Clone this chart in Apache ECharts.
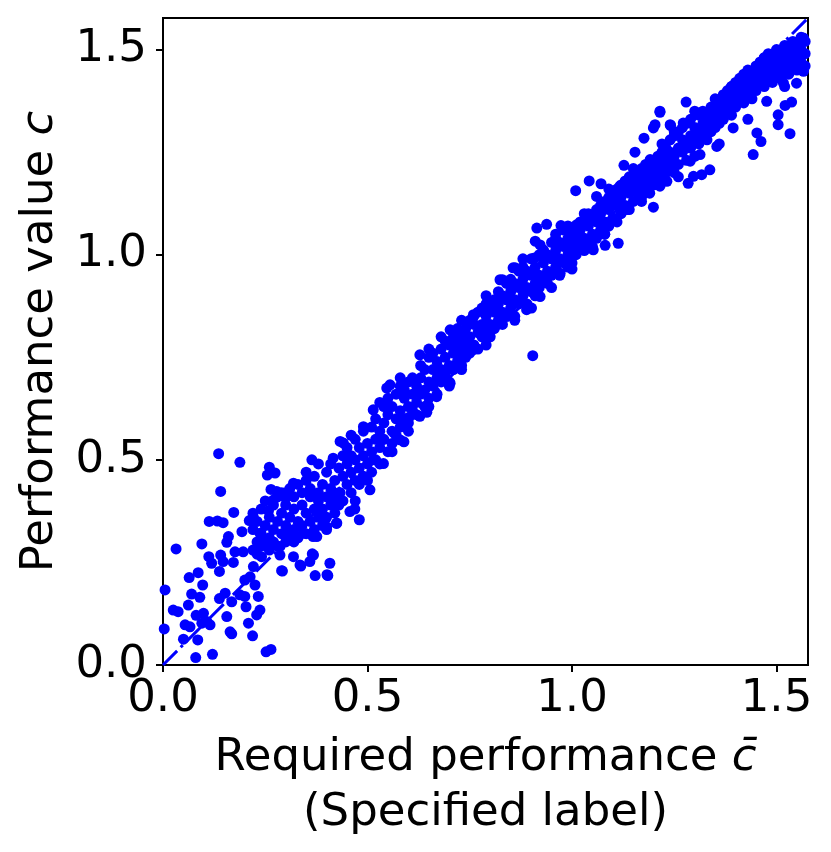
<!DOCTYPE html>
<html>
<head>
<meta charset="utf-8">
<script src="https://cdn.jsdelivr.net/npm/echarts@6/dist/echarts.min.js"></script>
<style>
html,body{margin:0;padding:0;background:#fff;}
#chart{width:831px;height:852px;}
</style>
</head>
<body>
<div id="chart"></div>
<script>
// Axis ranges and ticks
const axisMax = 1.577;
const tickInterval = 0.5;

// Reference line y = x
const diagonalLine = [[0, 0], [1.6, 1.6]];

// Dense band of points along the diagonal [required, value]
const bandPoints = [
[0.22,0.28],[0.22,0.33],[0.22,0.37],[0.23,0.30],[0.23,0.35],[0.23,0.27],[0.24,0.32],[0.24,0.38],[0.24,0.29],
[0.25,0.34],[0.25,0.30],[0.25,0.40],[0.26,0.31],[0.26,0.36],[0.26,0.28],[0.27,0.33],[0.27,0.39],[0.27,0.30],
[0.28,0.35],[0.28,0.29],[0.28,0.41],[0.29,0.32],[0.29,0.37],[0.29,0.42],[0.30,0.30],[0.30,0.34],[0.30,0.39],
[0.31,0.36],[0.31,0.32],[0.31,0.43],[0.32,0.38],[0.32,0.33],[0.32,0.41],[0.33,0.35],[0.33,0.31],[0.33,0.44],
[0.34,0.39],[0.34,0.34],[0.34,0.42],[0.35,0.37],[0.35,0.32],[0.35,0.45],[0.36,0.41],[0.36,0.35],[0.36,0.43],
[0.37,0.38],[0.37,0.33],[0.37,0.46],[0.38,0.42],[0.38,0.36],[0.38,0.40],[0.39,0.44],[0.39,0.38],[0.39,0.34],
[0.40,0.41],[0.40,0.47],[0.40,0.36],[0.41,0.43],[0.41,0.39],[0.41,0.49],[0.42,0.45],[0.42,0.37],[0.42,0.41],
[0.43,0.48],[0.43,0.42],[0.43,0.39],[0.44,0.46],[0.44,0.51],[0.44,0.40],[0.45,0.44],[0.45,0.49],[0.45,0.53],
[0.46,0.47],[0.46,0.42],[0.46,0.51],[0.47,0.50],[0.47,0.45],[0.47,0.55],[0.48,0.48],[0.48,0.53],[0.48,0.44],
[0.49,0.51],[0.49,0.46],[0.49,0.57],[0.50,0.49],[0.50,0.54],[0.50,0.45],[0.51,0.52],[0.51,0.58],[0.51,0.47],
[0.52,0.55],[0.52,0.50],[0.52,0.60],[0.53,0.53],[0.53,0.57],[0.53,0.49],[0.54,0.59],[0.54,0.55],[0.54,0.63],
[0.55,0.52],[0.55,0.61],[0.55,0.65],[0.56,0.57],[0.56,0.63],[0.56,0.54],[0.57,0.60],[0.57,0.66],[0.57,0.56],
[0.58,0.62],[0.58,0.58],[0.58,0.68],[0.59,0.65],[0.59,0.60],[0.59,0.67],[0.60,0.63],[0.60,0.69],[0.60,0.59],
[0.61,0.66],[0.61,0.62],[0.61,0.70],[0.62,0.64],[0.62,0.68],[0.62,0.61],[0.63,0.70],[0.63,0.66],[0.63,0.73],
[0.64,0.67],[0.64,0.63],[0.64,0.72],[0.65,0.69],[0.65,0.75],[0.65,0.65],[0.66,0.72],[0.66,0.68],[0.66,0.76],
[0.67,0.70],[0.67,0.74],[0.67,0.66],[0.68,0.77],[0.68,0.72],[0.68,0.69],[0.69,0.75],[0.69,0.71],[0.69,0.79],
[0.70,0.73],[0.70,0.78],[0.70,0.69],[0.71,0.76],[0.71,0.80],[0.71,0.72],[0.72,0.78],[0.72,0.74],[0.72,0.82],
[0.73,0.76],[0.73,0.80],[0.73,0.73],[0.74,0.82],[0.74,0.78],[0.74,0.75],[0.75,0.80],[0.75,0.84],[0.75,0.76],
[0.76,0.78],[0.76,0.83],[0.76,0.85],[0.77,0.81],[0.77,0.77],[0.77,0.86],[0.78,0.83],[0.78,0.80],[0.78,0.87],
[0.79,0.85],[0.79,0.81],[0.79,0.88],[0.80,0.83],[0.80,0.87],[0.80,0.80],[0.81,0.86],[0.81,0.82],[0.81,0.89],
[0.82,0.88],[0.82,0.84],[0.82,0.91],[0.83,0.86],[0.83,0.90],[0.83,0.83],[0.84,0.89],[0.84,0.93],[0.84,0.85],
[0.85,0.91],[0.85,0.87],[0.85,0.94],[0.86,0.89],[0.86,0.93],[0.86,0.85],[0.87,0.92],[0.87,0.88],[0.87,0.96],
[0.88,0.94],[0.88,0.90],[0.88,0.97],[0.89,0.92],[0.89,0.96],[0.89,0.88],[0.90,0.95],[0.90,0.91],[0.90,0.99],
[0.91,0.97],[0.91,0.93],[0.91,0.90],[0.92,0.95],[0.92,1.00],[0.92,0.92],[0.93,0.98],[0.93,0.94],[0.93,1.01],
[0.94,0.96],[0.94,1.00],[0.94,0.93],[0.95,0.99],[0.95,1.03],[0.95,0.95],[0.96,1.01],[0.96,0.97],[0.96,1.04],
[0.97,0.99],[0.97,1.03],[0.97,0.95],[0.98,1.02],[0.98,0.98],[0.98,1.06],[0.99,1.04],[0.99,1.00],[0.99,0.97],
[1.00,1.02],[1.00,1.06],[1.00,0.98],[1.01,1.04],[1.01,1.00],[1.01,1.07],[1.02,1.06],[1.02,1.02],[1.02,1.08],
[1.03,1.04],[1.03,1.08],[1.03,1.01],[1.04,1.07],[1.04,1.03],[1.04,1.10],[1.05,1.05],[1.05,1.09],[1.05,1.02],
[1.06,1.08],[1.06,1.04],[1.06,1.11],[1.07,1.10],[1.07,1.06],[1.07,1.12],[1.08,1.08],[1.08,1.13],[1.08,1.05],
[1.09,1.11],[1.09,1.07],[1.09,1.14],[1.10,1.09],[1.10,1.13],[1.10,1.15],[1.11,1.12],[1.11,1.08],[1.11,1.16],
[1.12,1.14],[1.12,1.10],[1.12,1.17],[1.13,1.12],[1.13,1.16],[1.13,1.18],[1.14,1.15],[1.14,1.11],[1.14,1.19],
[1.15,1.17],[1.15,1.13],[1.15,1.19],[1.16,1.15],[1.16,1.18],[1.16,1.20],[1.17,1.17],[1.17,1.14],[1.17,1.21],
[1.18,1.19],[1.18,1.16],[1.18,1.22],[1.19,1.18],[1.19,1.21],[1.19,1.15],[1.20,1.20],[1.20,1.17],[1.20,1.23],
[1.21,1.19],[1.21,1.22],[1.21,1.24],[1.22,1.21],[1.22,1.18],[1.22,1.25],[1.23,1.23],[1.23,1.20],[1.23,1.26],
[1.24,1.22],[1.24,1.25],[1.24,1.28],[1.25,1.24],[1.25,1.20],[1.25,1.29],[1.26,1.26],[1.26,1.22],[1.26,1.30],
[1.27,1.25],[1.27,1.28],[1.27,1.31],[1.28,1.27],[1.28,1.23],[1.28,1.32],[1.29,1.29],[1.29,1.26],[1.29,1.33],
[1.30,1.28],[1.30,1.31],[1.30,1.24],[1.31,1.30],[1.31,1.34],[1.31,1.27],[1.32,1.32],[1.32,1.29],[1.32,1.35],
[1.33,1.31],[1.33,1.34],[1.33,1.28],[1.34,1.33],[1.34,1.36],[1.34,1.30],[1.35,1.35],[1.35,1.31],[1.35,1.38],
[1.36,1.34],[1.36,1.37],[1.36,1.32],[1.37,1.36],[1.37,1.39],[1.37,1.33],[1.38,1.38],[1.38,1.35],[1.38,1.40],
[1.39,1.37],[1.39,1.41],[1.39,1.34],[1.40,1.39],[1.40,1.36],[1.40,1.42],[1.41,1.38],[1.41,1.41],[1.41,1.43],
[1.42,1.40],[1.42,1.37],[1.42,1.44],[1.43,1.42],[1.43,1.39],[1.43,1.45],[1.44,1.41],[1.44,1.44],[1.44,1.38],
[1.45,1.43],[1.45,1.46],[1.45,1.40],[1.46,1.42],[1.46,1.45],[1.46,1.47],[1.47,1.44],[1.47,1.41],[1.47,1.48],
[1.48,1.46],[1.48,1.43],[1.48,1.49],[1.49,1.45],[1.49,1.48],[1.49,1.42],[1.50,1.47],[1.50,1.44],[1.50,1.50],
[1.51,1.46],[1.51,1.49],[1.51,1.43],[1.52,1.48],[1.52,1.51],[1.52,1.45],[1.53,1.47],[1.53,1.50],[1.53,1.44],
[1.54,1.49],[1.54,1.52],[1.54,1.46],[1.55,1.48],[1.55,1.51],[1.55,1.45],[1.56,1.50],[1.56,1.47],[1.56,1.53],
[1.57,1.49],[1.57,1.52],[1.57,1.46]
];

// Points along the upper and lower edges of the band
const edgePoints = [
[0.319,0.443],[0.35,0.47],[0.38,0.49],[0.416,0.504],[0.433,0.545],[0.441,0.541],[0.46,0.56],[0.49,0.581],
[0.514,0.622],[0.53,0.64],[0.547,0.675],[0.555,0.683],[0.58,0.70],[0.611,0.695],[0.628,0.756],[0.65,0.77],
[0.68,0.80],[0.702,0.817],[0.73,0.84],[0.759,0.854],[0.79,0.90],[0.824,0.939],[0.856,0.968],[0.88,0.99],
[0.93,1.012],[0.96,1.05],[0.99,1.07],[1.011,1.073],[1.03,1.10],[1.06,1.142],[1.09,1.16],[1.117,1.167],
[1.15,1.21],[1.191,1.232],[1.22,1.27],[1.25,1.30],[1.272,1.321],[1.30,1.35],[1.337,1.337],[1.354,1.374],
[1.39,1.41],[1.435,1.447],[1.47,1.48],[1.50,1.496],[1.53,1.51],[1.566,1.528],
[0.286,0.289],[0.32,0.30],[0.367,0.313],[0.40,0.33],[0.425,0.346],[0.433,0.42],[0.47,0.40],[0.506,0.427],
[0.514,0.50],[0.539,0.491],[0.56,0.52],[0.579,0.549],[0.60,0.57],[0.628,0.606],[0.65,0.63],[0.669,0.654],
[0.70,0.68],[0.73,0.72],[0.758,0.768],[0.79,0.78],[0.84,0.85],[0.86,0.84],[0.889,0.866],[0.922,0.898],
[0.95,0.92],[0.971,0.955],[1.00,0.965],[1.052,1.012],[1.08,1.05],[1.134,1.11],[1.17,1.13],[1.215,1.167],
[1.232,1.179],[1.26,1.19],[1.297,1.191],[1.313,1.244],[1.337,1.207],[1.36,1.27],[1.394,1.309],[1.43,1.33],
[1.476,1.374],[1.52,1.41],[1.566,1.447]
];

// Scattered points in the low range (x < 0.5)
const lowPoints = [
[0.005,0.183],[0.032,0.283],[0.003,0.088],[0.025,0.134],[0.037,0.130],[0.050,0.063],[0.054,0.098],[0.066,0.093],
[0.062,0.146],[0.064,0.213],[0.070,0.173],[0.080,0.018],[0.085,0.061],[0.086,0.225],[0.090,0.165],[0.095,0.295],
[0.095,0.102],[0.097,0.195],[0.099,0.126],[0.081,0.121],[0.107,0.106],[0.115,0.098],[0.112,0.264],[0.119,0.248],
[0.121,0.026],[0.113,0.350],[0.133,0.351],[0.147,0.347],[0.136,0.515],[0.138,0.228],[0.138,0.162],[0.141,0.268],
[0.141,0.423],[0.147,0.252],[0.152,0.175],[0.156,0.118],[0.156,0.299],[0.160,0.313],[0.164,0.081],[0.168,0.076],
[0.168,0.154],[0.172,0.250],[0.173,0.372],[0.176,0.276],[0.188,0.494],[0.188,0.171],[0.193,0.325],[0.196,0.276],
[0.200,0.167],[0.200,0.207],[0.203,0.142],[0.209,0.102],[0.211,0.352],[0.213,0.215],[0.219,0.071],[0.221,0.360],
[0.221,0.240],[0.225,0.195],[0.229,0.122],[0.233,0.167],[0.237,0.134],[0.252,0.032],[0.264,0.038],[0.255,0.463],
[0.260,0.482],[0.274,0.468],[0.258,0.376],[0.264,0.428],[0.278,0.423],[0.270,0.402],[0.298,0.419],[0.300,0.407],
[0.241,0.264],[0.237,0.321],[0.245,0.293],[0.286,0.268],[0.292,0.229],[0.319,0.264],[0.335,0.244],[0.368,0.268],
[0.372,0.218],[0.403,0.218],[0.408,0.248],[0.337,0.241],[0.359,0.252],[0.343,0.321],[0.376,0.313],[0.400,0.337],
[0.424,0.345],[0.457,0.374],[0.469,0.380],[0.480,0.354],[0.364,0.500],[0.290,0.230],[0.365,0.271],[0.401,0.220]
];

// Scattered points in the middle range
const midPoints = [
[0.488,0.457],[0.589,0.544],[0.645,0.616],[0.602,0.604],[0.702,0.687],[0.904,0.754],[0.901,0.870],[0.861,0.968],
[0.830,0.939],[0.914,1.065],[0.938,1.074],[0.973,1.071],[0.910,1.033],[0.922,1.024],[0.908,0.992],[1.009,1.156],
[1.042,1.180],[1.071,1.173],[1.081,1.023],[1.113,1.028],[1.127,1.218],[1.154,1.250],[1.176,1.284],[1.199,1.116],
[1.215,1.347],[1.203,1.317],[1.240,1.317]
];

// Scattered points in the high range
const highPoints = [
[1.279,1.372],[1.215,1.350],[1.241,1.315],[1.199,1.309],[1.354,1.264],[1.443,1.244],[1.452,1.297],[1.462,1.276],
[1.533,1.295],[1.504,1.341],[1.504,1.317],[1.521,1.364],[1.537,1.372],[1.549,1.418],[1.517,1.418],[1.317,1.195],
[1.289,1.228],[1.284,1.174]
];

const allPoints = bandPoints.concat(edgePoints, lowPoints, midPoints, highPoints);

const chart = echarts.init(document.getElementById('chart'), null, {renderer: 'canvas'});
const FONT = 'DejaVu Sans';
const option = {
  animation: false,
  backgroundColor: '#fff',
  grid: {left: 163, top: 18, width: 645, height: 647, show: true, borderColor: '#000', borderWidth: 2, backgroundColor: 'transparent'},
  xAxis: {
    type: 'value', min: 0, max: axisMax, interval: tickInterval,
    splitLine: {show: false},
    axisLine: {show: true, onZero: false, lineStyle: {color: '#000', width: 2}},
    axisTick: {show: true, inside: false, length: 7, lineStyle: {color: '#000', width: 2}},
    axisLabel: {fontFamily: FONT, fontSize: 45, color: '#000', margin: 12, formatter: v => v.toFixed(1), showMaxLabel: false},
    name: 'Required performance {i|c\u0304}\n(Specified label)',
    nameLocation: 'middle', nameGap: 66,
    nameTextStyle: {fontFamily: FONT, fontSize: 45, color: '#000', lineHeight: 55,
      rich: {i: {fontFamily: FONT, fontSize: 45, fontStyle: 'italic', color: '#000', lineHeight: 55}}}
  },
  yAxis: {
    type: 'value', min: 0, max: axisMax, interval: tickInterval,
    splitLine: {show: false},
    axisLine: {show: true, onZero: false, lineStyle: {color: '#000', width: 2}},
    axisTick: {show: true, inside: false, length: 7, lineStyle: {color: '#000', width: 2}},
    axisLabel: {fontFamily: FONT, fontSize: 45, color: '#000', margin: 16, formatter: v => v.toFixed(1), showMaxLabel: false},
    name: 'Performance value {i|c}',
    nameLocation: 'middle', nameGap: 100,
    nameTextStyle: {fontFamily: FONT, fontSize: 45, color: '#000',
      rich: {i: {fontFamily: FONT, fontSize: 45, fontStyle: 'italic', color: '#000'}}}
  },
  series: [
    {
      type: 'line', data: diagonalLine, symbol: 'none', clip: true, z: 1,
      lineStyle: {color: '#0000ff', width: 3, type: [20, 5, 3, 5]}
    },
    {
      type: 'scatter', data: allPoints, symbol: 'circle', symbolSize: 11, clip: false, z: 2,
      itemStyle: {color: '#0000ff', opacity: 1}
    }
  ]
};
chart.setOption(option);
</script>
</body>
</html>
